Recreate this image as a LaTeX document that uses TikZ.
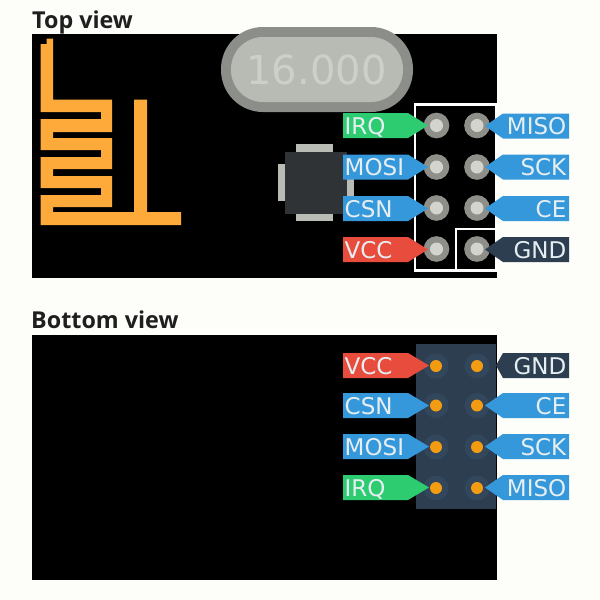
\documentclass[tikz,border=0pt]{standalone}
\usepackage{fontspec}
\setmainfont{DejaVu Sans}
\newfontfamily\titlefont{Open Sans}
\definecolor{paper}{HTML}{FDFDF9}
\definecolor{copper}{HTML}{FDAA3A}
\definecolor{xtalout}{HTML}{8C8E8A}
\definecolor{xtalin}{HTML}{B8BAB4}
\definecolor{xtaltxt}{HTML}{CDCFC9}
\definecolor{tabgrey}{HTML}{B9BBB5}
\definecolor{btnbody}{HTML}{2F3336}
\definecolor{pinout}{HTML}{8F8F8A}
\definecolor{pinin}{HTML}{D3D4CD}
\definecolor{lblgreen}{HTML}{2ECC71}
\definecolor{lblblue}{HTML}{3498DB}
\definecolor{lblred}{HTML}{E74C3C}
\definecolor{lbldark}{HTML}{2C3E50}
\definecolor{lbltext}{HTML}{E6EEF2}
\definecolor{halo}{HTML}{32465C}
\definecolor{pinorange}{HTML}{F39C12}
\tikzset{
  x=1pt,y=-1pt,
  board/.style={fill=black},
  heading/.style={font=\titlefont\bfseries\fontsize{23.3}{25}\selectfont,text=black!88,anchor=base west,inner sep=0pt},
  lbl/.style={font=\fontsize{23}{26}\selectfont,text=lbltext,inner sep=0pt,anchor=base},
  topring/.style={circle,fill=pinin,draw=pinout,line width=6.5pt,minimum size=19pt,inner sep=0pt},
  botpin/.style={circle,fill=pinorange,draw=halo,line width=7pt,minimum size=18pt,inner sep=0pt},
  tab/.style={fill=tabgrey},
}
% left label: colour, name, text, cy, tip x
\newcommand{\leftlabel}[5]{%
  \fill[#1] (343,#4-12.5) -- (408,#4-12.5) -- (#5,#4) -- (408,#4+12.5) -- (343,#4+12.5) -- cycle;
  \node[lbl,anchor=base west] (#2) at (344.5,#4+8.5) {#3};}
% right label: colour, name, text, cy, tip x
\newcommand{\rightlabel}[5]{%
  \fill[#1] (569,#4-12.5) -- (503,#4-12.5) -- (#5,#4) -- (503,#4+12.5) -- (569,#4+12.5) -- cycle;
  \node[lbl,anchor=base east] (#2) at (566.5,#4+8.5) {#3};}
\begin{document}
\begin{tikzpicture}
\useasboundingbox (0,0) rectangle (600,600);
\fill[paper] (0,0) rectangle (600,600);
\node[heading] (toptitle) at (32,28) {Top view};
\node[heading] (bottomtitle) at (31,328) {Bottom view};
% boards
\fill[board] (32,34) rectangle (497,278);
\fill[board] (32,335) rectangle (497,580);
% antenna
\fill[copper] (40.5,44) -- (46.5,44) -- (46.5,38.5) -- (53,38.5) -- (53,99.5) -- (112,99.5) -- (112,132) -- (53,132) -- (53,138) -- (112,138) -- (112,169) -- (53,169) -- (53,176) -- (112,176) -- (112,207) -- (53,207) -- (53,212) -- (134,212) -- (134,99.5) -- (147,99.5) -- (147,212) -- (181,212) -- (181,225) -- (40.5,225) -- (40.5,195) -- (101,195) -- (101,188) -- (40.5,188) -- (40.5,157) -- (101,157) -- (101,150) -- (40.5,150) -- (40.5,119) -- (101,119) -- (101,112) -- (40.5,112) -- cycle;
% crystal
\fill[xtalout,rounded corners=42pt] (221,27) rectangle (413,112);
\fill[xtalin,rounded corners=32pt] (231,37) rectangle (403,102);
\node[font=\fontsize{40}{44}\selectfont,text=xtaltxt,inner sep=0pt] (xtal) at (316.5,69.5) {16.000};
% push button
\fill[tab] (296,144) rectangle (333,151.5);
\fill[tab] (296,214) rectangle (333,221);
\fill[tab] (278,164) rectangle (285,201);
\fill[tab] (346.5,164) rectangle (354,201);
\fill[btnbody] (285,151.5) rectangle (346.5,214);
% top header outline
\draw[white,line width=2.5pt] (415,104.5) rectangle (496,270.5);
\draw[white,line width=2.5pt] (456,270.5) -- (456,229) -- (496,229);
% top pins
\foreach \n/\px/\py in {a/436.5/125.5,b/477/125.5,c/436.5/167,d/477/167,e/436.5/208,f/477/208,g/436.5/249,h/477/249}
  \node[topring] (top\n) at (\px,\py) {};
% top labels
\leftlabel{lblgreen}{irqT}{IRQ}{125.5}{428}
\leftlabel{lblblue}{mosiT}{MOSI}{167}{428}
\leftlabel{lblblue}{csnT}{CSN}{208.5}{428}
\leftlabel{lblred}{vccT}{VCC}{249.5}{428}
\rightlabel{lblblue}{misoT}{MISO}{126}{485}
\rightlabel{lblblue}{sckT}{SCK}{167}{485}
\rightlabel{lblblue}{ceT}{CE}{208.5}{485}
\rightlabel{lbldark}{gndT}{GND}{249.5}{485}
% bottom header
\fill[lbldark] (416,344) rectangle (496,509);
\foreach \n/\px/\py in {a/436/366,b/477/366,c/436/405.5,d/477/405.5,e/436/447,f/477/447,g/436/488,h/477/488}
  \node[botpin] (bot\n) at (\px,\py) {};
% bottom labels
\leftlabel{lblred}{vccB}{VCC}{365.5}{429}
\leftlabel{lblblue}{csnB}{CSN}{405.5}{429}
\leftlabel{lblblue}{mosiB}{MOSI}{446.5}{429}
\leftlabel{lblgreen}{irqB}{IRQ}{487.5}{429}
\rightlabel{lbldark}{gndB}{GND}{365.5}{496}
\rightlabel{lblblue}{ceB}{CE}{405.5}{485}
\rightlabel{lblblue}{sckB}{SCK}{446.5}{485}
\rightlabel{lblblue}{misoB}{MISO}{487.5}{485}
% orange dots stay on top of the label tips
\foreach \p in {bota,botb,botc,botd,bote,botf,botg,both}
  \fill[pinorange] (\p) circle[radius=6];
\foreach \p in {topa,topb,topc,topd,tope,topf,topg,toph}
  \fill[pinin] (\p) circle[radius=6.5];
\end{tikzpicture}
\end{document}
